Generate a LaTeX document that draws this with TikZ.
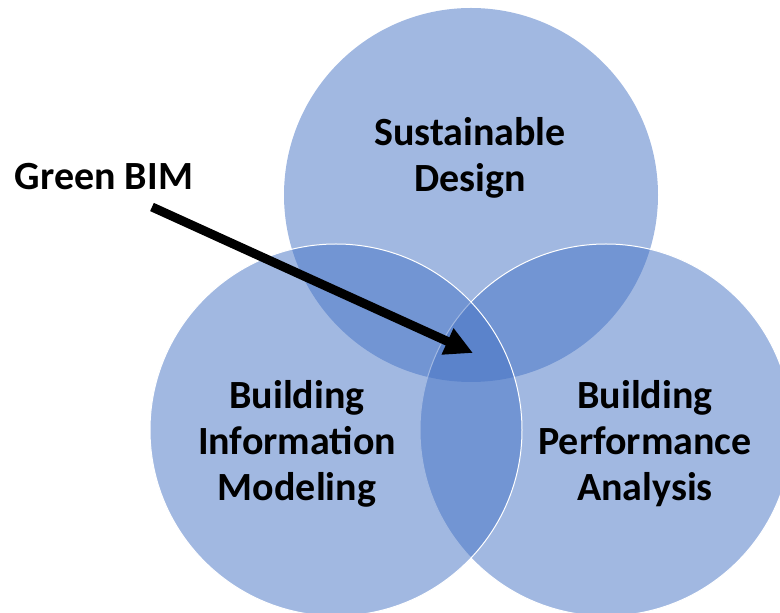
\documentclass[tikz,border=0pt]{standalone}
\usepackage{fontspec}
\setmainfont{Carlito}
\usetikzlibrary{arrows.meta}
\definecolor{setblue}{RGB}{68,114,196}

\begin{document}
\begin{tikzpicture}[x=1pt, y=1pt,
  setfill/.style={fill=setblue, fill opacity=0.5},
  rim/.style={draw=white, line width=1pt},
  settext/.style={font=\fontsize{40}{46}\selectfont\bfseries, align=center, text=black}]

  \useasboundingbox (0,0) rectangle (780,613);
  \clip (0,0) rectangle (780,613);

  % the three sets
  \path[setfill] (471,418) circle (187);
  \path[setfill, rim] (606,183) circle (186);
  \path[setfill, rim] (336,183) circle (186);

  \node[settext] (sd)  at (470,455) {Sustainable\\Design};
  \node[settext] (bim) at (297,169) {Building\\Information\\Modeling};
  \node[settext] (bpa) at (645,169) {Building\\Performance\\Analysis};

  % pointer into the middle
  \node[settext] (green) at (104,436) {Green BIM};
  \coordinate (from) at (152,406);
  \coordinate (mid) at (473,260);
  \draw[line width=9pt, -{Triangle[length=28pt, width=27pt]}] (from) -- (mid);

\end{tikzpicture}
\end{document}
